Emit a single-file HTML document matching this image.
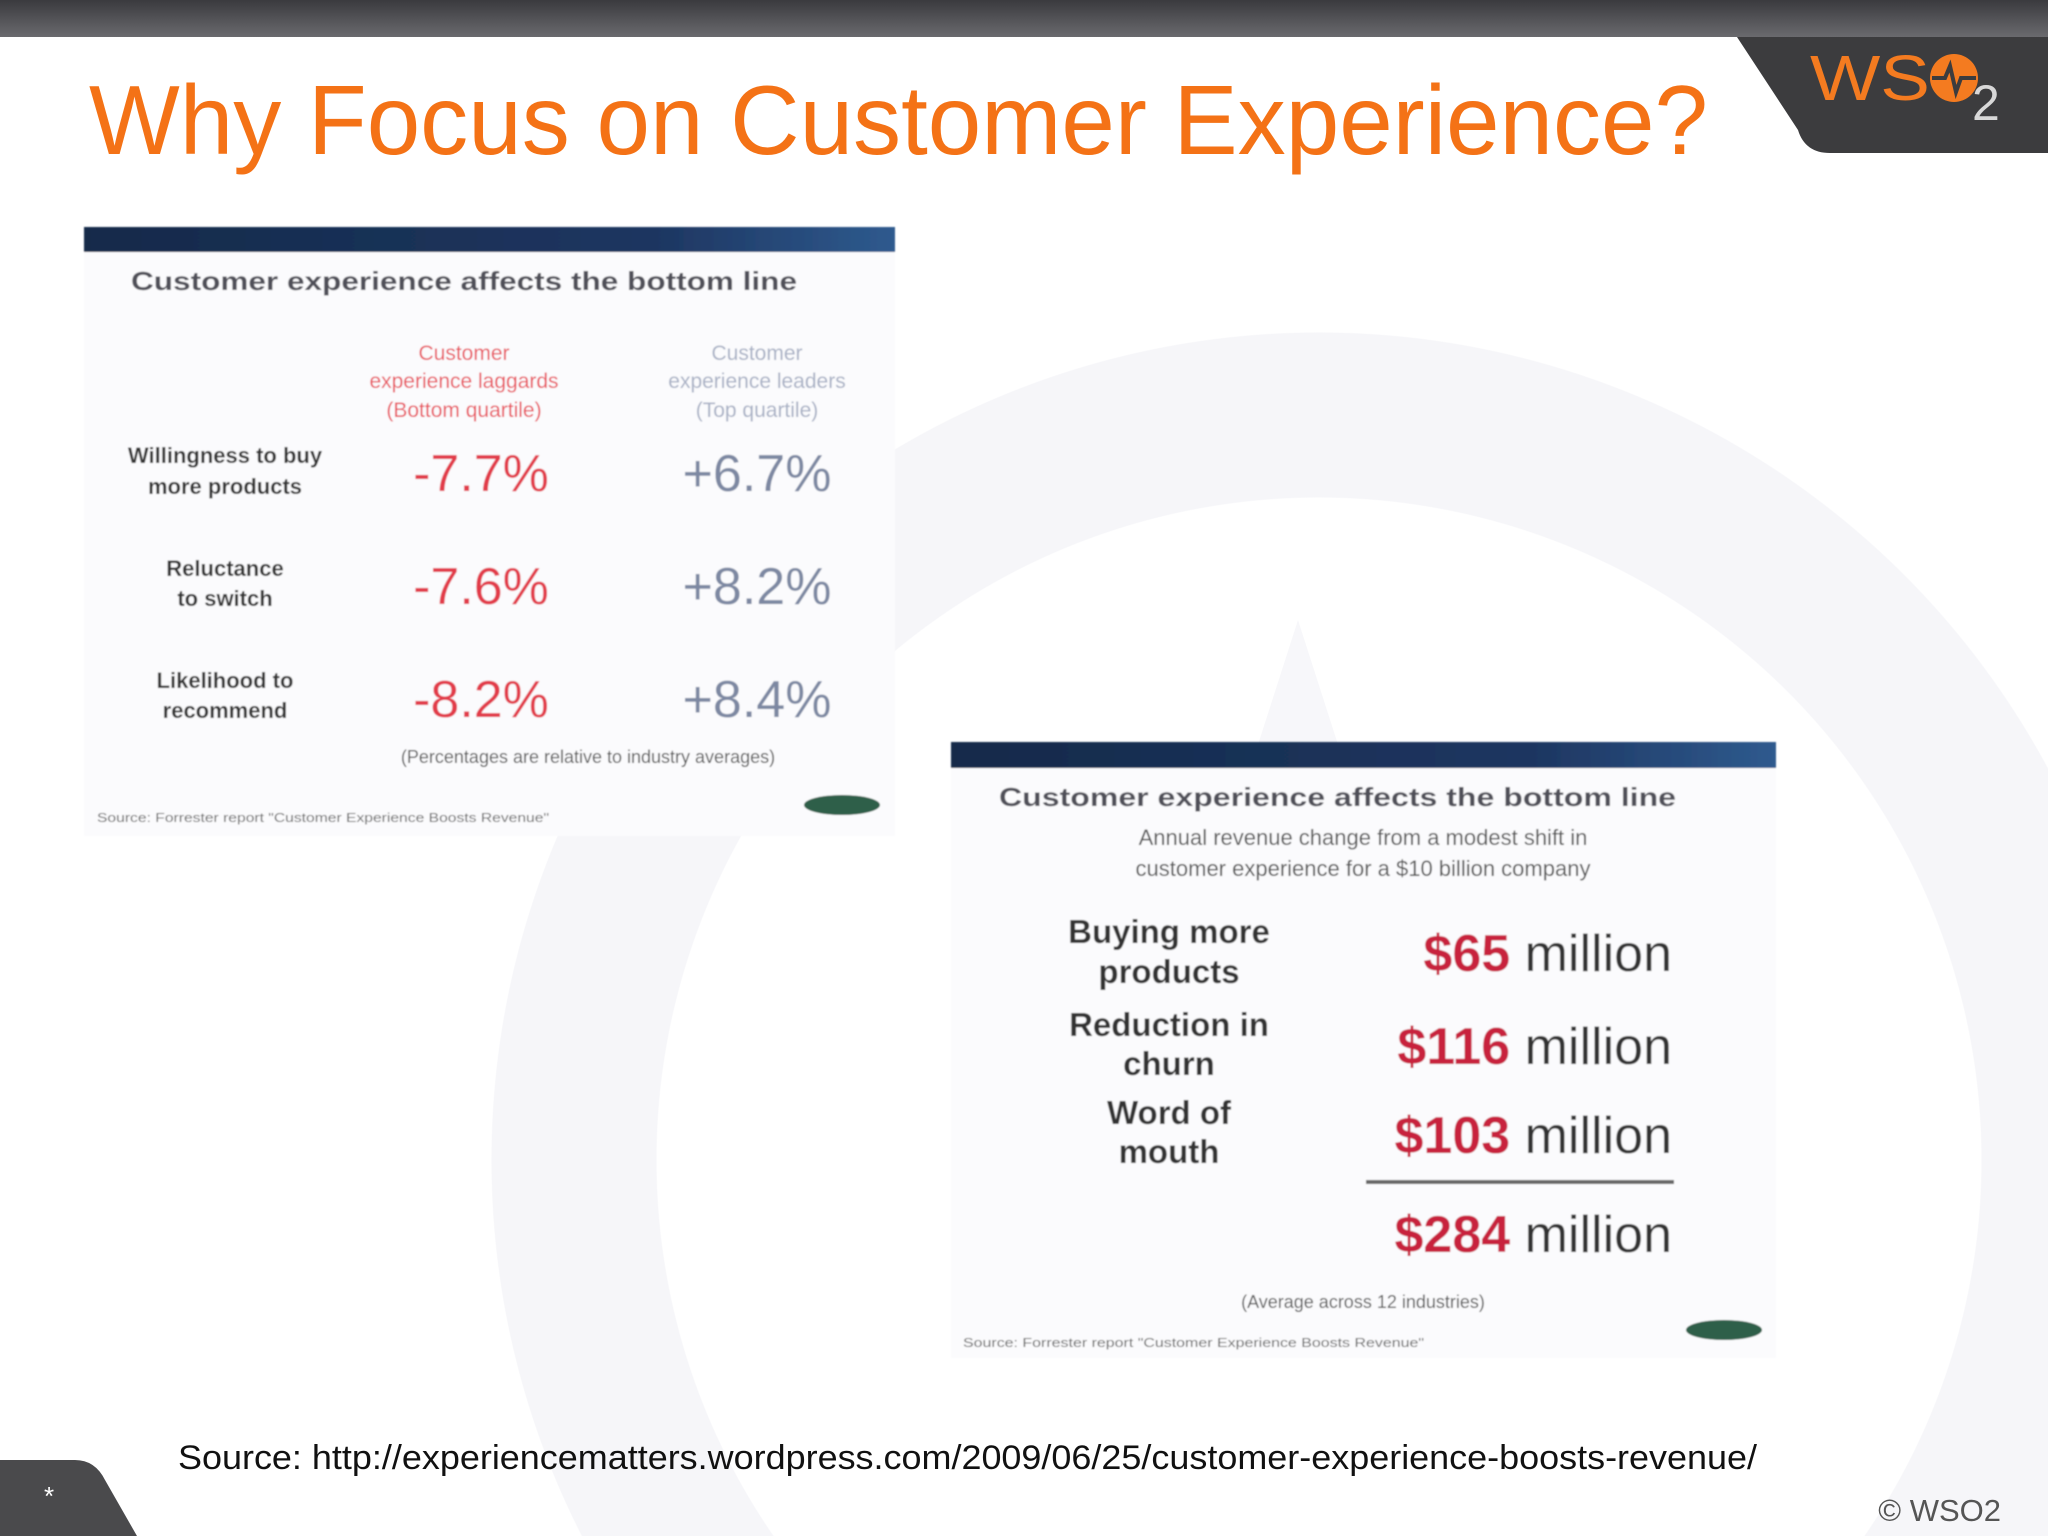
<!DOCTYPE html>
<html><head><meta charset="utf-8"><style>
html,body{margin:0;padding:0;background:#fff;width:2048px;height:1536px;overflow:hidden;}
#wm{position:absolute;left:0;top:0;width:2048px;height:1536px;
background:radial-gradient(circle at 1319px 1160px, transparent 662px, #f6f6f9 663px, #f6f6f9 827px, transparent 828px);}
svg{display:block;position:absolute;left:0;top:0;}
text{font-family:"Liberation Sans",sans-serif;}
</style></head><body>
<div id="wm"></div>
<svg width="2048" height="1536" viewBox="0 0 2048 1536">
<defs>
<linearGradient id="top" x1="0" y1="0" x2="0" y2="1"><stop offset="0" stop-color="#3a3a3e"/><stop offset="1" stop-color="#6a6a6e"/></linearGradient>
<linearGradient id="navy" x1="0" y1="0" x2="1" y2="0"><stop offset="0" stop-color="#142a4a"/><stop offset="0.7" stop-color="#1d3560"/><stop offset="1" stop-color="#2e5a8e"/></linearGradient>
<filter id="blur"><feGaussianBlur stdDeviation="0.9"/></filter>
</defs>
<polygon points="1298,620 1420,1000 1176,1000" fill="#f7f7fa"/>
<rect x="0" y="0" width="2048" height="37" fill="url(#top)"/>
<path d="M1737,37 L2048,37 L2048,153 L1830,153 Q1805,153 1798,130 Z" fill="#3c3c3e"/>
<g>
<text x="1810" y="100" font-size="64" fill="#f47b20" textLength="120" lengthAdjust="spacingAndGlyphs">WS</text>
<circle cx="1954" cy="78" r="24" fill="#f47b20"/>
<polyline points="1932,78 1945,78 1950,66 1956,92 1961,78 1976,78" fill="none" stroke="#3c3c3e" stroke-width="4"/>
<text x="1972" y="120" font-size="50" fill="#d8d8d8">2</text>
</g>
<text x="89" y="154" font-size="98" fill="#f47216" textLength="1619" lengthAdjust="spacingAndGlyphs">Why Focus on Customer Experience?</text>

<g filter="url(#blur)">
<rect x="84" y="227" width="811" height="609" fill="#fbfbfd"/>
<rect x="84" y="227" width="811" height="25" fill="url(#navy)"/>
<text x="131" y="290" font-size="26" font-weight="bold" fill="#505058" textLength="666" lengthAdjust="spacingAndGlyphs">Customer experience affects the bottom line</text>
<g font-size="21" fill="#e8505a" text-anchor="middle">
<text x="464" y="360">Customer</text>
<text x="464" y="388">experience laggards</text>
<text x="464" y="417">(Bottom quartile)</text>
</g>
<g font-size="21" fill="#a8b0c4" text-anchor="middle">
<text x="757" y="360">Customer</text>
<text x="757" y="388">experience leaders</text>
<text x="757" y="417">(Top quartile)</text>
</g>
<g font-size="22" font-weight="bold" fill="#333" text-anchor="middle">
<text x="225" y="463">Willingness to buy</text><text x="225" y="494">more products</text>
<text x="225" y="576">Reluctance</text><text x="225" y="606">to switch</text>
<text x="225" y="688">Likelihood to</text><text x="225" y="718">recommend</text>
</g>
<g font-size="52" text-anchor="middle">
<text x="481" y="491" fill="#e23a48">-7.7%</text>
<text x="481" y="604" fill="#e23a48">-7.6%</text>
<text x="481" y="717" fill="#e23a48">-8.2%</text>
<text x="757" y="491" fill="#7d88a2">+6.7%</text>
<text x="757" y="604" fill="#7d88a2">+8.2%</text>
<text x="757" y="717" fill="#7d88a2">+8.4%</text>
</g>
<text x="588" y="763" font-size="18" fill="#555" text-anchor="middle">(Percentages are relative to industry averages)</text>
<text x="97" y="822" font-size="13" fill="#666" textLength="452" lengthAdjust="spacingAndGlyphs">Source: Forrester report "Customer Experience Boosts Revenue"</text>
<ellipse cx="842" cy="805" rx="38" ry="10" fill="#2f5f4a"/>
</g>

<g filter="url(#blur)">
<rect x="951" y="742" width="825" height="616" fill="#fbfbfd"/>
<rect x="951" y="742" width="825" height="26" fill="url(#navy)"/>
<text x="999" y="806" font-size="26" font-weight="bold" fill="#505058" textLength="677" lengthAdjust="spacingAndGlyphs">Customer experience affects the bottom line</text>
<g font-size="22" fill="#555" text-anchor="middle">
<text x="1363" y="845">Annual revenue change from a modest shift in</text>
<text x="1363" y="876">customer experience for a $10 billion company</text>
</g>
<g font-size="33" font-weight="bold" fill="#333" text-anchor="middle">
<text x="1169" y="943">Buying more</text><text x="1169" y="983">products</text>
<text x="1169" y="1036">Reduction in</text><text x="1169" y="1075">churn</text>
<text x="1169" y="1124">Word of</text><text x="1169" y="1163">mouth</text>
</g>
<g font-size="52" text-anchor="end">
<text x="1672" y="971"><tspan fill="#c8203e" font-weight="bold">$65</tspan><tspan fill="#333"> million</tspan></text>
<text x="1672" y="1064"><tspan fill="#c8203e" font-weight="bold">$116</tspan><tspan fill="#333"> million</tspan></text>
<text x="1672" y="1153"><tspan fill="#c8203e" font-weight="bold">$103</tspan><tspan fill="#333"> million</tspan></text>
<text x="1672" y="1252"><tspan fill="#c8203e" font-weight="bold">$284</tspan><tspan fill="#333"> million</tspan></text>
</g>
<rect x="1366" y="1180" width="308" height="4" fill="#666"/>
<text x="1363" y="1308" font-size="18" fill="#555" text-anchor="middle">(Average across 12 industries)</text>
<text x="963" y="1347" font-size="13" fill="#666" textLength="461" lengthAdjust="spacingAndGlyphs">Source: Forrester report "Customer Experience Boosts Revenue"</text>
<ellipse cx="1724" cy="1330" rx="38" ry="10" fill="#2f5f4a"/>
</g>

<text x="178" y="1469" font-size="34" fill="#111" textLength="1579" lengthAdjust="spacingAndGlyphs">Source: http://experiencematters.wordpress.com/2009/06/25/customer-experience-boosts-revenue/</text>
<path d="M0,1460 L75,1460 Q95,1460 105,1480 L137,1536 L0,1536 Z" fill="#4a4a4c"/>
<text x="44" y="1505" font-size="26" fill="#fff">*</text>
<text x="2001" y="1521" font-size="31" fill="#555" text-anchor="end">© WSO2</text>
</svg>
</body></html>
